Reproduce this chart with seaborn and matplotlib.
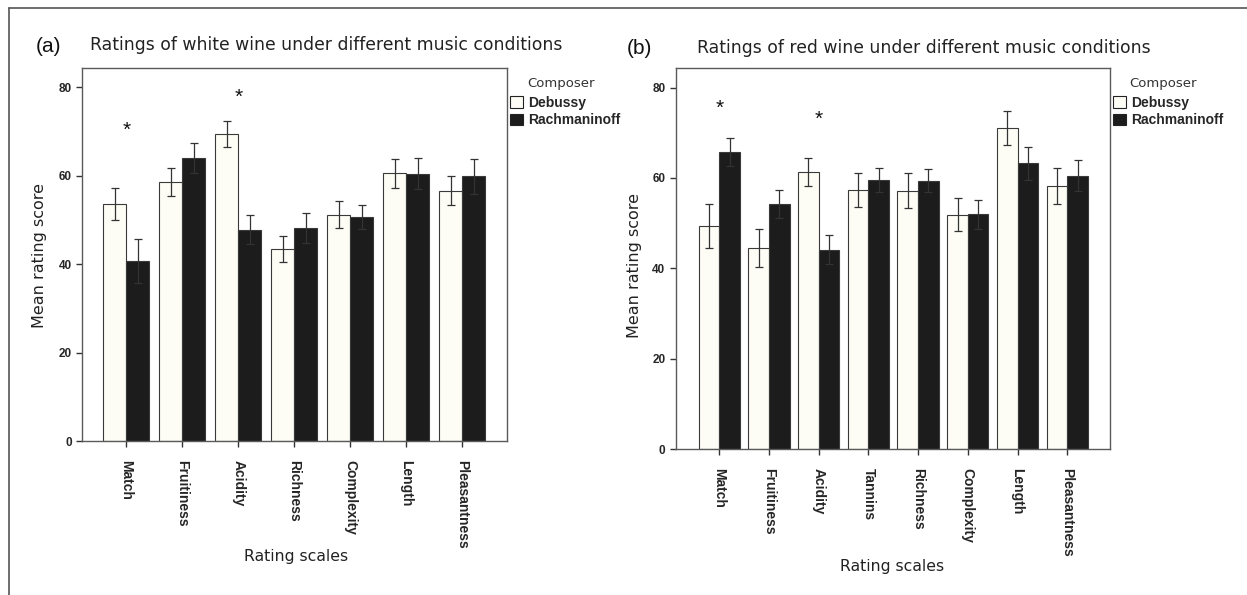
import matplotlib
matplotlib.use('Agg')
import matplotlib.pyplot as plt
import seaborn as sns
import pandas as pd
from matplotlib.lines import Line2D
from matplotlib.patches import Patch

# ---------------- data ----------------
composers = ['Debussy', 'Rachmaninoff']

white_scales = ['Match', 'Fruitiness', 'Acidity', 'Richness', 'Complexity', 'Length', 'Pleasantness']
white_debussy = [53.6, 58.6, 69.4, 43.5, 51.2, 60.6, 56.6]
white_rach = [40.7, 64.0, 47.8, 48.3, 50.7, 60.5, 59.9]
white_debussy_err = [3.7, 3.2, 2.9, 2.9, 3.0, 3.3, 3.3]
white_rach_err = [4.9, 3.4, 3.3, 3.4, 2.8, 3.5, 4.0]
white_star_scales = ['Match', 'Acidity']
white_star_y = [70.3, 77.7]

red_scales = ['Match', 'Fruitiness', 'Acidity', 'Tannins', 'Richness', 'Complexity', 'Length', 'Pleasantness']
red_debussy = [49.4, 44.4, 61.4, 57.4, 57.2, 51.9, 71.1, 58.3]
red_rach = [65.8, 54.3, 44.1, 59.6, 59.4, 52.0, 63.2, 60.5]
red_debussy_err = [4.9, 4.2, 3.1, 3.8, 3.8, 3.6, 3.8, 4.0]
red_rach_err = [3.1, 3.1, 3.2, 2.7, 2.6, 3.2, 3.7, 3.5]
red_star_scales = ['Match', 'Acidity']
red_star_y = [75.5, 72.9]

yticks = [0, 20, 40, 60, 80]

# ---------------- style ----------------
sns.set_style('white')
plt.rcParams['font.family'] = ['Liberation Sans', 'DejaVu Sans']
W, H = 1247, 595
DPI = 100
palette = {'Debussy': '#fdfdf6', 'Rachmaninoff': '#1c1c1c'}
EDGE = '#3a3a3a'
SPINE = '#5a5a5a'
SPACED = ['DejaVu Sans']

fig = plt.figure(figsize=(W / DPI, H / DPI), dpi=DPI)
fig.patch.set_facecolor('white')


def rect(l, t, r, b):
    return [l / W, 1 - b / H, (r - l) / W, (b - t) / H]


def fx(x):
    return x / W


def fy(y):
    return 1 - y / H


def panel(ax, scales, deb, rach, deb_err, rach_err, width, xlim, star_scales, star_y):
    n = len(scales)
    df = pd.DataFrame({
        'scale': scales * 2,
        'score': deb + rach,
        'composer': ['Debussy'] * n + ['Rachmaninoff'] * n,
    })
    sns.barplot(data=df, x='scale', y='score', hue='composer', order=scales,
                hue_order=composers, palette=palette, width=width,
                edgecolor=EDGE, linewidth=0.8, errorbar=None, saturation=1,
                legend=False, ax=ax, zorder=2)
    for cont, errs in zip(ax.containers, [deb_err, rach_err]):
        xs = [p.get_x() + p.get_width() / 2 for p in cont]
        ys = [p.get_height() for p in cont]
        ax.errorbar(xs, ys, yerr=errs, fmt='none', ecolor='#333333',
                    elinewidth=0.9, capsize=3, capthick=0.9, zorder=5)
    for s, y in zip(star_scales, star_y):
        ax.text(scales.index(s), y, '*', ha='center', va='center',
                fontsize=15, color='#111111', zorder=6)
    ax.set_xlim(*xlim)
    ax.set_ylim(0, 84.4)
    ax.set_yticks(yticks)
    ax.set_yticklabels([str(v) for v in yticks], fontsize=8.5, fontweight='bold')
    ax.set_xticks(range(n))
    ax.set_xticklabels(scales, rotation=270, fontsize=10, fontweight='bold',
                       ha='center', va='top')
    ax.tick_params(axis='x', length=4.5, width=1, color='#333333', pad=9,
                   direction='out', bottom=True)
    ax.tick_params(axis='y', length=4.5, width=1, color='#333333', pad=3,
                   direction='out', left=True)
    ax.set_xlabel('')
    ax.set_ylabel('')
    for sp in ax.spines.values():
        sp.set_color(SPINE)
        sp.set_linewidth(1.0)
        sp.set_visible(True)
    ax.set_facecolor('white')


# left panel
axL = fig.add_axes(rect(82.3, 68, 507, 441))
panel(axL, white_scales, white_debussy, white_rach, white_debussy_err, white_rach_err,
      0.82, (-0.786, 6.80), white_star_scales, white_star_y)

# right panel
axR = fig.add_axes(rect(675.7, 67.7, 1110, 449))
panel(axR, red_scales, red_debussy, red_rach, red_debussy_err, red_rach_err,
      0.83, (-0.877, 7.86), red_star_scales, red_star_y)

# panel letters and titles
fig.text(fx(36), fy(46), '(a)', fontsize=15, va='center', ha='left', color='#111111')
fig.text(fx(90), fy(45), 'Ratings of white wine under different music conditions',
         fontsize=12.4, va='center', ha='left', family=SPACED, color='#222222')
fig.text(fx(627), fy(48), '(b)', fontsize=15, va='center', ha='left', color='#111111')
fig.text(fx(697), fy(48), 'Ratings of red wine under different music conditions',
         fontsize=12.4, va='center', ha='left', family=SPACED, color='#222222')

# axis labels
fig.text(fx(40), fy(255), 'Mean rating score', rotation=90, fontsize=11.5,
         va='center', ha='center', family=SPACED, color='#222222')
fig.text(fx(634), fy(265), 'Mean rating score', rotation=90, fontsize=11.5,
         va='center', ha='center', family=SPACED, color='#222222')
fig.text(fx(296), fy(557), 'Rating scales', fontsize=11.3, va='center', ha='center',
         family=SPACED, color='#222222')
fig.text(fx(892), fy(566), 'Rating scales', fontsize=11.3, va='center', ha='center',
         family=SPACED, color='#222222')

# legends
handles = [Patch(facecolor=palette[c], edgecolor='#222222', linewidth=0.8) for c in composers]
for lx, ty, tx in [(510, 96, 527), (1113, 96, 1129)]:
    fig.text(fx(tx), fy(83), 'Composer', fontsize=9.5, va='center', ha='left',
             family=SPACED, color='#333333')
    fig.legend(handles, composers, loc='upper left', bbox_to_anchor=(fx(lx), fy(ty)),
               bbox_transform=fig.transFigure, frameon=False, borderpad=0,
               borderaxespad=0, handlelength=0.9, handleheight=0.9,
               handletextpad=0.4, labelspacing=0.22,
               prop={'weight': 'bold', 'size': 10})

# outer frame (top and left edges)
fig.add_artist(Line2D([fx(9), 1.0], [fy(8), fy(8)], color='#555555', linewidth=1.2,
                      transform=fig.transFigure))
fig.add_artist(Line2D([fx(9), fx(9)], [fy(8), 0.0], color='#555555', linewidth=1.2,
                      transform=fig.transFigure))

fig.savefig('out.png', dpi=DPI, facecolor='white')
